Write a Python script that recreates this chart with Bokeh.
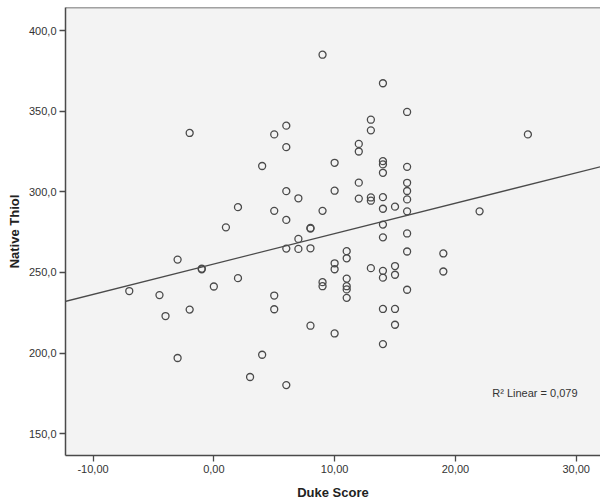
import numpy as np
from bokeh.plotting import figure
from bokeh.models import (ColumnDataSource, Range1d, FixedTicker, CustomJSTickFormatter,
                          Slope, Label, Span)
from bokeh.embed import file_html
from bokeh.resources import INLINE

# Data (Duke Score vs Native Thiol)
duke_score = [
    -7, -4.5, -4, -3, -3, -2, -2, -1, -1, 0, 1, 2, 2, 3, 4, 4,
    5, 5, 5, 5,
    6, 6, 6, 6, 6, 6,
    7, 7, 7,
    8, 8, 8, 8,
    9, 9, 9, 9,
    10, 10, 10, 10, 10,
    11, 11, 11, 11, 11, 11,
    12, 12, 12, 12,
    13, 13, 13, 13, 13,
    14, 14, 14, 14, 14, 14, 14, 14, 14, 14, 14, 14,
    15, 15, 15, 15, 15,
    16, 16, 16, 16, 16, 16, 16, 16, 16,
    19, 19, 22, 26,
]
native_thiol = [
    238.5, 236.0, 223.0, 258.0, 197.0, 336.5, 227.0, 252.4, 252.0, 241.3, 278.0, 290.5, 246.5, 185.2, 316.0, 199.0,
    335.6, 288.2, 235.7, 227.2,
    341.0, 327.7, 300.4, 282.6, 264.8, 180.2,
    296.0, 270.8, 264.6,
    277.6, 277.2, 265.0, 217.0,
    385.0, 288.2, 244.0, 241.5,
    318.0, 300.7, 255.7, 252.0, 212.2,
    263.2, 258.8, 246.2, 241.5, 239.5, 234.3,
    329.7, 325.0, 305.7, 295.8,
    344.7, 338.1, 296.5, 294.5, 252.7,
    367.3, 319.0, 317.0, 311.8, 296.7, 289.5, 279.7, 271.8, 251.0, 246.8, 227.4, 205.6,
    290.8, 254.0, 248.6, 227.4, 217.6,
    349.5, 315.5, 305.6, 300.5, 295.3, 287.9, 274.2, 263.0, 239.3,
    261.8, 250.6, 287.9, 335.6,
]
x_ticks = [-10, 0, 10, 20, 30]
y_ticks = [150, 200, 250, 300, 350, 400]
r2_text = "R\u00b2 Linear = 0,079"

FONT = "Liberation Sans"
DARK = "#4a4a4a"

X0, X1 = -12.28, 32.01
Y0, Y1 = 136.55, 414.26

p = figure(width=600, height=504, output_backend="svg", toolbar_location=None,
           x_range=Range1d(X0, X1), y_range=Range1d(Y0, Y1),
           min_border_left=65, min_border_right=0, min_border_top=7, min_border_bottom=49)

p.background_fill_color = "#f3f3f3"
p.border_fill_color = "white"
p.outline_line_color = None
p.xgrid.visible = False
p.ygrid.visible = False

# top border of the frame
p.add_layout(Span(location=Y1, dimension="width", line_color=DARK, line_width=1.5))

# regression line
slope, intercept = np.polyfit(np.array(duke_score, float), np.array(native_thiol, float), 1)
p.add_layout(Slope(gradient=float(slope), y_intercept=float(intercept),
                   line_color=DARK, line_width=1.3))

src = ColumnDataSource(dict(x=duke_score, y=native_thiol))
p.scatter("x", "y", source=src, size=7, marker="circle", fill_color=None,
          line_color=DARK, line_width=1.3)

p.add_layout(Label(x=23.05, y=175.0, text=r2_text, text_font=FONT, text_font_size="11px",
                   text_color="#333333", text_baseline="middle"))

for ax, ticks, fmt in ((p.xaxis[0], x_ticks, 2), (p.yaxis[0], y_ticks, 1)):
    ax.ticker = FixedTicker(ticks=ticks)
    ax.formatter = CustomJSTickFormatter(code=f"return tick.toFixed({fmt}).replace('.', ',');")
    ax.axis_line_color = DARK
    ax.axis_line_width = 1.5
    ax.major_tick_line_color = DARK
    ax.major_tick_line_width = 1.3
    ax.major_tick_out = 6
    ax.major_tick_in = 0
    ax.minor_tick_line_color = None
    ax.major_label_text_font = FONT
    ax.major_label_text_font_size = "11px"
    ax.major_label_text_color = "#333333"
    ax.major_label_standoff = 3
    ax.axis_label_text_font = FONT
    ax.axis_label_text_font_style = "bold"
    ax.axis_label_text_font_size = "13px"
    ax.axis_label_text_color = "#222222"

p.xaxis.axis_label = "Duke Score"
p.xaxis.axis_label_standoff = 9
p.yaxis.axis_label = "Native Thiol"
p.yaxis.axis_label_standoff = 4

open("out.html", "w").write(file_html(p, INLINE))
